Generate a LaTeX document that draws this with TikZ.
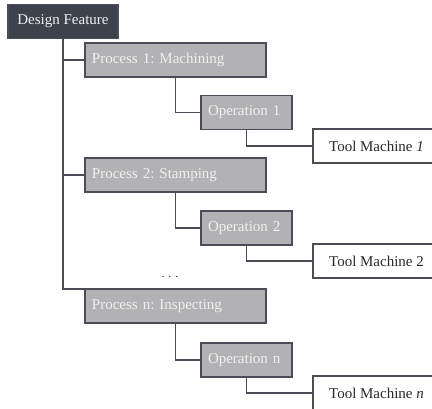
\documentclass[tikz,border=0pt]{standalone}
\usepackage{fontspec}
\setmainfont{Liberation Serif}
\frenchspacing
\definecolor{darkbox}{HTML}{3D424B}
\definecolor{greybox}{HTML}{B2B2B4}
\definecolor{edgegrey}{HTML}{4A4D55}
\definecolor{lighttext}{HTML}{F0F0F0}
\definecolor{darktext}{HTML}{2A2A2A}
\tikzset{
  base/.style={draw=edgegrey, line width=1.3pt, font=\fontsize{15}{17}\selectfont,
    minimum height=34pt, inner sep=0pt, outer sep=0pt},
  rootbox/.style={base, fill=darkbox, text=lighttext, minimum width=110pt},
  procbox/.style={base, fill=greybox, text=lighttext, anchor=west,
    minimum width=181pt, text width=167pt, align=left},
  opbox/.style={base, fill=greybox, text=lighttext, anchor=west,
    minimum width=91pt, text width=77pt, align=left},
  toolbox/.style={base, fill=white, text=darktext, anchor=west,
    minimum width=127pt},
  link/.style={draw=edgegrey, line width=1.3pt}
}
\begin{document}
\begin{tikzpicture}[x=1pt, y=-1pt]
  \useasboundingbox (0,0) rectangle (432,409);
  % root of the hierarchy
  \node[rootbox] (DF) at (63,21.5) {Design Feature};
  % processes
  \node[procbox] (P1) at (85,60)  {Process 1: Machining};
  \node[procbox] (P2) at (85,175) {Process 2: Stamping};
  \node[procbox] (Pn) at (85,306) {Process n: Inspecting};
  % operations
  \node[opbox] (O1) at (201,112.5) {Operation 1};
  \node[opbox] (O2) at (201,228)   {Operation 2};
  \node[opbox] (On) at (201,360)   {Operation n};
  % tool machines
  \node[toolbox] (T1) at (313,146) {Tool Machine \textit{1}};
  \node[toolbox] (T2) at (313,261) {Tool Machine 2};
  \node[toolbox] (Tn) at (313,393) {Tool Machine \textit{n}};
  % ellipsis between the processes
  \node[font=\fontsize{12}{14}\selectfont, text=darktext] (dots) at (170,277) {.\,\,.\,\,.};
  % trunk from the root to each process
  \draw[link] (DF.south) |- (Pn.north west);
  \draw[link] (DF.south |- P1.west) -- (P1.west);
  \draw[link] (DF.south |- P2.west) -- (P2.west);
  % process -> operation
  \draw[link] (P1.south) |- (O1.west);
  \draw[link] (P2.south) |- (O2.west);
  \draw[link] (Pn.south) |- (On.west);
  % operation -> tool machine
  \draw[link] (O1.south) |- (T1.west);
  \draw[link] (O2.south) |- (T2.west);
  \draw[link] (On.south) |- (Tn.west);
\end{tikzpicture}
\end{document}
